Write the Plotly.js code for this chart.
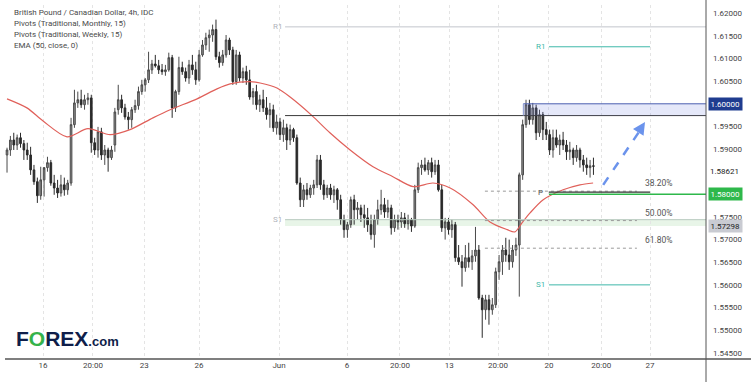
<!DOCTYPE html>
<html><head><meta charset="utf-8">
<script src="https://cdn.plot.ly/plotly-3.0.1.min.js"></script>
<style>html,body{margin:0;padding:0;background:#fff;}#chart{width:751px;height:382px;}</style>
</head><body><div id="chart"></div>
<script>
// ---- data ----
const tickLabels = ['16','20:00','23','26','Jun','6','20:00','13','20:00','20','20:00','27'];
const tickPos = [10.7,25.5,40.7,57,80.7,100.9,116.6,131.2,145.7,160.8,176.3,190.8];
// price ticks shown on the axis (1.585, 1.580 and 1.600 are covered by the price badges)
const priceTicks = [1.545,1.55,1.555,1.56,1.565,1.57,1.575,1.59,1.595,1.605,1.61,1.615,1.62];

const open = [
1.5887,1.5898,1.5920,1.5909,1.5925,1.5912,1.5898,1.5887,1.5854,1.5828,
1.5797,1.5832,1.5859,1.5870,1.5825,1.5814,1.5803,1.5821,1.5810,1.5825,
1.5954,1.6002,1.6009,1.5998,1.6009,1.6013,1.5914,1.5898,1.5938,1.5887,
1.5898,1.5881,1.5909,1.5987,1.6009,1.5991,1.5971,1.5965,1.5987,1.5996,
1.6027,1.6042,1.6053,1.6075,1.6088,1.6084,1.6075,1.6071,1.6075,1.6102,
1.5991,1.6027,1.6080,1.6071,1.6057,1.6086,1.6075,1.6053,1.6108,1.6130,
1.6146,1.6152,1.6164,1.6104,1.6091,1.6108,1.6141,1.6119,1.6049,1.6108,
1.6057,1.6071,1.6053,1.6015,1.6027,1.5998,1.6009,1.5991,1.5976,1.5987,
1.5947,1.5960,1.5932,1.5947,1.5920,1.5943,1.5925,1.5825,1.5788,1.5810,
1.5799,1.5814,1.5821,1.5876,1.5821,1.5799,1.5814,1.5799,1.5810,1.5788,
1.5744,1.5722,1.5733,1.5788,1.5766,1.5770,1.5755,1.5748,1.5733,1.5711,
1.5744,1.5766,1.5777,1.5761,1.5770,1.5726,1.5744,1.5739,1.5748,1.5735,
1.5744,1.5730,1.5810,1.5859,1.5865,1.5854,1.5870,1.5850,1.5865,1.5810,
1.5726,1.5739,1.5722,1.5733,1.5660,1.5651,1.5638,1.5660,1.5651,1.5664,
1.5677,1.5571,1.5545,1.5567,1.5545,1.5556,1.5629,1.5651,1.5677,1.5666,
1.5651,1.5677,1.5688,1.5843,1.5954,1.5998,1.5965,1.5991,1.5936,1.5976,
1.5943,1.5932,1.5898,1.5925,1.5909,1.5920,1.5909,1.5894,1.5898,1.5881,
1.5898,1.5876,1.5865,1.5859,1.5863];
const high = [
1.5903,1.5929,1.5936,1.5932,1.5936,1.5920,1.5914,1.5905,1.5865,1.5837,
1.5861,1.5854,1.5883,1.5876,1.5843,1.5832,1.5843,1.5837,1.5832,1.5969,
1.6031,1.6027,1.6031,1.6020,1.6024,1.6020,1.5925,1.5949,1.5947,1.5909,
1.5903,1.5907,1.5991,1.6042,1.6020,1.6000,1.5982,1.5993,1.6009,1.6038,
1.6053,1.6057,1.6115,1.6097,1.6108,1.6097,1.6088,1.6086,1.6113,1.6108,
1.6031,1.6104,1.6093,1.6080,1.6097,1.6108,1.6093,1.6119,1.6141,1.6157,
1.6164,1.6175,1.6186,1.6115,1.6119,1.6152,1.6146,1.6126,1.6119,1.6115,
1.6080,1.6084,1.6075,1.6035,1.6042,1.6020,1.6031,1.6015,1.6002,1.5998,
1.5976,1.5969,1.5965,1.5956,1.5954,1.5947,1.5932,1.5837,1.5821,1.5825,
1.5821,1.5832,1.5887,1.5887,1.5832,1.5821,1.5823,1.5819,1.5814,1.5799,
1.5755,1.5739,1.5795,1.5799,1.5783,1.5777,1.5777,1.5770,1.5755,1.5755,
1.5788,1.5810,1.5792,1.5788,1.5777,1.5755,1.5755,1.5761,1.5759,1.5755,
1.5748,1.5821,1.5870,1.5876,1.5881,1.5876,1.5881,1.5876,1.5876,1.5821,
1.5748,1.5748,1.5744,1.5739,1.5688,1.5666,1.5688,1.5693,1.5677,1.5728,
1.5688,1.5578,1.5578,1.5578,1.5571,1.5638,1.5666,1.5688,1.5704,1.5700,
1.5688,1.5704,1.5848,1.5965,1.6009,1.6009,1.6002,1.5998,1.5987,1.5982,
1.5960,1.5943,1.5943,1.5943,1.5932,1.5938,1.5920,1.5916,1.5903,1.5909,
1.5903,1.5887,1.5881,1.5876,1.5881];
const low = [
1.5848,1.5885,1.5898,1.5898,1.5903,1.5876,1.5876,1.5843,1.5821,1.5781,
1.5788,1.5795,1.5850,1.5819,1.5799,1.5792,1.5795,1.5797,1.5799,1.5819,
1.5947,1.5991,1.5991,1.5987,1.5998,1.5892,1.5887,1.5881,1.5876,1.5865,
1.5850,1.5876,1.5894,1.5976,1.5980,1.5965,1.5943,1.5947,1.5980,1.5987,
1.6020,1.6027,1.6046,1.6066,1.6080,1.6066,1.6064,1.6062,1.6071,1.5969,
1.5982,1.6020,1.6064,1.6049,1.6044,1.6064,1.6042,1.6049,1.6104,1.6119,
1.6115,1.6137,1.6097,1.6080,1.6084,1.6102,1.6108,1.6042,1.6042,1.6049,
1.6046,1.6042,1.6009,1.5998,1.5987,1.5982,1.5982,1.5965,1.5947,1.5938,
1.5932,1.5920,1.5916,1.5898,1.5909,1.5916,1.5821,1.5772,1.5772,1.5788,
1.5792,1.5799,1.5814,1.5810,1.5788,1.5792,1.5788,1.5781,1.5766,1.5733,
1.5704,1.5704,1.5726,1.5733,1.5744,1.5739,1.5726,1.5717,1.5700,1.5682,
1.5733,1.5755,1.5748,1.5748,1.5711,1.5717,1.5722,1.5726,1.5726,1.5722,
1.5717,1.5726,1.5803,1.5843,1.5850,1.5843,1.5837,1.5843,1.5806,1.5717,
1.5700,1.5711,1.5704,1.5651,1.5644,1.5596,1.5629,1.5638,1.5633,1.5651,
1.5567,1.5483,1.5523,1.5512,1.5534,1.5549,1.5611,1.5622,1.5651,1.5633,
1.5638,1.5664,1.5574,1.5832,1.5947,1.5954,1.5954,1.5920,1.5927,1.5920,
1.5920,1.5887,1.5881,1.5903,1.5887,1.5898,1.5876,1.5876,1.5865,1.5872,
1.5859,1.5850,1.5843,1.5837,1.5843];
const close = [
1.5898,1.5920,1.5909,1.5925,1.5912,1.5898,1.5887,1.5854,1.5828,1.5797,
1.5832,1.5859,1.5870,1.5825,1.5814,1.5803,1.5821,1.5810,1.5825,1.5954,
1.6002,1.6009,1.5998,1.6009,1.6013,1.5914,1.5898,1.5938,1.5887,1.5898,
1.5881,1.5898,1.5982,1.6009,1.5991,1.5971,1.5965,1.5987,1.5996,1.6027,
1.6042,1.6053,1.6075,1.6088,1.6084,1.6075,1.6071,1.6075,1.6102,1.5991,
1.6027,1.6080,1.6071,1.6057,1.6086,1.6075,1.6053,1.6108,1.6130,1.6146,
1.6152,1.6164,1.6104,1.6091,1.6108,1.6141,1.6119,1.6049,1.6108,1.6057,
1.6071,1.6053,1.6015,1.6027,1.5998,1.6009,1.5991,1.5976,1.5987,1.5947,
1.5960,1.5932,1.5947,1.5920,1.5943,1.5925,1.5825,1.5788,1.5810,1.5799,
1.5814,1.5821,1.5876,1.5821,1.5799,1.5814,1.5799,1.5810,1.5788,1.5744,
1.5722,1.5733,1.5788,1.5766,1.5770,1.5755,1.5748,1.5733,1.5711,1.5744,
1.5766,1.5777,1.5761,1.5770,1.5726,1.5744,1.5739,1.5748,1.5735,1.5744,
1.5730,1.5810,1.5859,1.5865,1.5854,1.5870,1.5850,1.5865,1.5810,1.5726,
1.5739,1.5722,1.5733,1.5660,1.5651,1.5638,1.5660,1.5651,1.5664,1.5677,
1.5571,1.5545,1.5567,1.5545,1.5556,1.5629,1.5651,1.5677,1.5666,1.5651,
1.5677,1.5688,1.5843,1.5954,1.5998,1.5965,1.5991,1.5936,1.5976,1.5943,
1.5932,1.5898,1.5925,1.5909,1.5920,1.5909,1.5894,1.5898,1.5881,1.5898,
1.5876,1.5865,1.5859,1.5863,1.58621];

const emaIdx = [0,5.9,10.7,17.8,24,30.6,36.5,43.3,48.4,56.4,62.3,66.2,72.1,75.1,80.1,84,90.5,95.8,101.8,108.6,114.5,120.5,126.4,131.5,138.3,143.3,148.4,150.7,152.8,155.2,159.1,165,170,173.9];
const emaVal = [1.6011,1.5991,1.5962,1.5927,1.5945,1.5932,1.5943,1.5969,1.5987,1.6011,1.6033,1.6044,1.6049,1.6046,1.6035,1.6015,1.5974,1.5936,1.5898,1.5861,1.5839,1.5817,1.5825,1.5814,1.5777,1.5739,1.5722,1.5717,1.5737,1.5759,1.5788,1.5810,1.5821,1.5825];

// levels
const monthlyR1 = 1.6170, monthlyP = 1.5974, monthlyS1 = 1.5744, bandLow = 1.57298;
const weeklyR1 = 1.6126, weeklyP = 1.5805, weeklyS1 = 1.5600;
const zoneLow = 1.5974, zoneHigh = 1.6000;
const greenLevel = 1.5800;
const fibLevels = [1.5807, 1.5742, 1.5681];
const fibLabels = ['38.20%', '50.00%', '61.80%'];
const lastPrice = 1.58621;
const arrowFrom = [176.9, 1.5821], arrowTo = [189.3, 1.5960];
// bar index anchors (time positions)
const monthStart = 82.5, weekStart = 160.8, weekEnd = 190.8, fibStart = 141.8, fibEnd = 186.9, zoneStart = 153.2, xMax = 207.4;

const xs = open.map((_, i) => i);
const FONT = 'Roboto, "Liberation Sans", Arial, sans-serif';

const traces = [
  {type:'candlestick', x:xs, open:open, high:high, low:low, close:close,
   increasing:{line:{color:'#4a4a4a', width:1}, fillcolor:'#8e8e8e'},
   decreasing:{line:{color:'#2a2a2a', width:1}, fillcolor:'#2a2a2a'},
   whiskerwidth:0, hoverinfo:'skip', showlegend:false},
  {type:'scatter', mode:'lines', x:emaIdx, y:emaVal, line:{color:'#e0605a', width:1.2, shape:'spline', smoothing:0.8}, hoverinfo:'skip', showlegend:false}
];

const shapes = [
  {type:'rect', xref:'x', yref:'y', x0:monthStart, x1:xMax, y0:bandLow, y1:monthlyS1, fillcolor:'rgba(76,175,80,0.13)', line:{width:0}, layer:'below'},
  {type:'line', xref:'x', yref:'y', x0:monthStart, x1:xMax, y0:monthlyS1, y1:monthlyS1, line:{color:'#b7c9be', width:1}},
  {type:'line', xref:'x', yref:'y', x0:monthStart, x1:xMax, y0:monthlyR1, y1:monthlyR1, line:{color:'#c3c5cc', width:1}},
  {type:'line', xref:'x', yref:'y', x0:monthStart, x1:xMax, y0:monthlyP, y1:monthlyP, line:{color:'#3a3a3a', width:1}},
  {type:'rect', xref:'x', yref:'y', x0:zoneStart, x1:xMax, y0:zoneLow, y1:zoneHigh, fillcolor:'rgba(110,130,220,0.18)', line:{width:0}},
  {type:'line', xref:'x', yref:'y', x0:zoneStart, x1:xMax, y0:zoneHigh, y1:zoneHigh, line:{color:'#4a5fb0', width:1}},
  {type:'line', xref:'x', yref:'y', x0:zoneStart, x1:zoneStart, y0:zoneLow, y1:zoneHigh, line:{color:'#8a98d0', width:1}},
  ...fibLevels.map(v => ({type:'line', xref:'x', yref:'y', x0:fibStart, x1:fibEnd, y0:v, y1:v, line:{color:'#9a9a9a', width:1, dash:'dot'}})),
  {type:'line', xref:'x', yref:'y', x0:weekStart, x1:weekEnd, y0:weeklyR1, y1:weeklyR1, line:{color:'#3fb8aa', width:1}},
  {type:'line', xref:'x', yref:'y', x0:weekStart, x1:weekEnd, y0:weeklyS1, y1:weeklyS1, line:{color:'#3fb8aa', width:1}},
  {type:'line', xref:'x', yref:'y', x0:weekStart, x1:xMax, y0:greenLevel, y1:greenLevel, line:{color:'#2eb84b', width:1.5}},
  {type:'line', xref:'x', yref:'y', x0:weekStart, x1:weekEnd, y0:weeklyP, y1:weeklyP, line:{color:'#333333', width:1.2}},
  {type:'line', xref:'x', yref:'y', x0:arrowFrom[0], y0:arrowFrom[1], x1:arrowTo[0]-0.6, y1:arrowTo[1]-0.0009, line:{color:'#6b93ec', width:2.5, dash:'dash'}},
  {type:'line', xref:'paper', yref:'paper', x0:1, x1:1, y0:-0.07, y1:1.02, line:{color:'#555', width:1}},
  {type:'line', xref:'paper', yref:'paper', x0:0, x1:1.07, y0:0, y1:0, line:{color:'#555', width:1.5}}
];

const legendLines = ['British Pound / Canadian Dollar, 4h, IDC','Pivots (Traditional, Monthly, 15)','Pivots (Traditional, Weekly, 15)','EMA (50, close, 0)'];
const legendY = [0.980, 0.948, 0.916, 0.885];

const annotations = [
  ...legendLines.map((t, i) => ({xref:'paper', yref:'paper', x:0.01, y:legendY[i], xanchor:'left', yanchor:'middle', text:t, showarrow:false, font:{family:FONT, size:8, color:'#4a4a4a'}})),
  {xref:'x', yref:'y', x:monthStart, y:monthlyR1, xanchor:'right', xshift:-1, text:'R1', showarrow:false, font:{family:FONT, size:8, color:'#b0b3bb'}},
  {xref:'x', yref:'y', x:monthStart, y:monthlyS1, xanchor:'right', xshift:-1, text:'S1', showarrow:false, font:{family:FONT, size:8, color:'#b0b3bb'}},
  {xref:'x', yref:'y', x:weekStart, y:weeklyR1, xanchor:'right', xshift:-2, text:'R1', showarrow:false, font:{family:FONT, size:8, color:'#3fb8aa'}},
  {xref:'x', yref:'y', x:weekStart, y:weeklyS1, xanchor:'right', xshift:-2, text:'S1', showarrow:false, font:{family:FONT, size:8, color:'#3fb8aa'}},
  {xref:'x', yref:'y', x:weekStart, y:weeklyP, xanchor:'right', xshift:-4, text:'P', showarrow:false, font:{family:FONT, size:8, color:'#555'}},
  ...fibLevels.map((v, i) => ({xref:'x', yref:'y', x:188.6, y:v, xanchor:'left', yanchor:'bottom', yshift:1, text:fibLabels[i], showarrow:false, font:{family:FONT, size:8.5, color:'#555'}})),
  {xref:'x', yref:'y', x:arrowTo[0], y:arrowTo[1], ax:-7, ay:11, showarrow:true, arrowhead:2, arrowsize:1, arrowwidth:2.5, arrowcolor:'#6b93ec', text:''},
  {xref:'paper', yref:'y', x:1, y:zoneHigh, xanchor:'left', xshift:2, text:zoneHigh.toFixed(5), showarrow:false, bgcolor:'#1f3c8f', borderpad:1.5, font:{family:FONT, size:8, color:'#fff'}},
  {xref:'paper', yref:'y', x:1, y:1.5851, xanchor:'left', xshift:2, text:lastPrice.toFixed(5), showarrow:false, bgcolor:'#ffffff', borderpad:1, font:{family:FONT, size:8, color:'#222'}},
  {xref:'paper', yref:'y', x:1, y:greenLevel, xanchor:'left', xshift:2, text:greenLevel.toFixed(5), showarrow:false, bgcolor:'#2eb84b', borderpad:1.5, font:{family:FONT, size:8, color:'#fff'}},
  {xref:'paper', yref:'y', x:1, y:bandLow, xanchor:'left', xshift:2, text:bandLow.toFixed(5), showarrow:false, bgcolor:'#c9cbd2', borderpad:1.5, font:{family:FONT, size:8, color:'#222'}},
  {xref:'paper', yref:'paper', x:0.013, y:0.057, xanchor:'left', yanchor:'middle', showarrow:false,
   text:"<b>F<span style='color:#35b34a'>O</span>REX</b><b><span style='font-size:13px'>.com</span></b>",
   font:{family:'"Liberation Sans", Arial, sans-serif', size:21, color:'#0f1e4a'}}
];

const layout = {
  width:751, height:382,
  margin:{l:5, r:45, t:5, b:23},
  paper_bgcolor:'#fff', plot_bgcolor:'#fff',
  showlegend:false, hovermode:false, dragmode:false,
  xaxis:{type:'linear', range:[-0.6, xMax], tickvals:tickPos, ticktext:tickLabels, showgrid:true, gridcolor:'#e4e4e4', griddash:'dot', gridwidth:1,
         zeroline:false, showline:false, ticks:'', tickfont:{family:FONT, size:8, color:'#444'}, rangeslider:{visible:false}, fixedrange:true},
  yaxis:{side:'right', range:[1.54362, 1.62183], tickvals:priceTicks, tickformat:'.5f', showgrid:false, zeroline:false, showline:false,
         ticks:'', ticklabelstandoff:6, tickfont:{family:FONT, size:8, color:'#444'}, fixedrange:true},
  shapes:shapes, annotations:annotations
};

Plotly.newPlot('chart', traces, layout, {staticPlot:true, displayModeBar:false});
</script></body></html>
